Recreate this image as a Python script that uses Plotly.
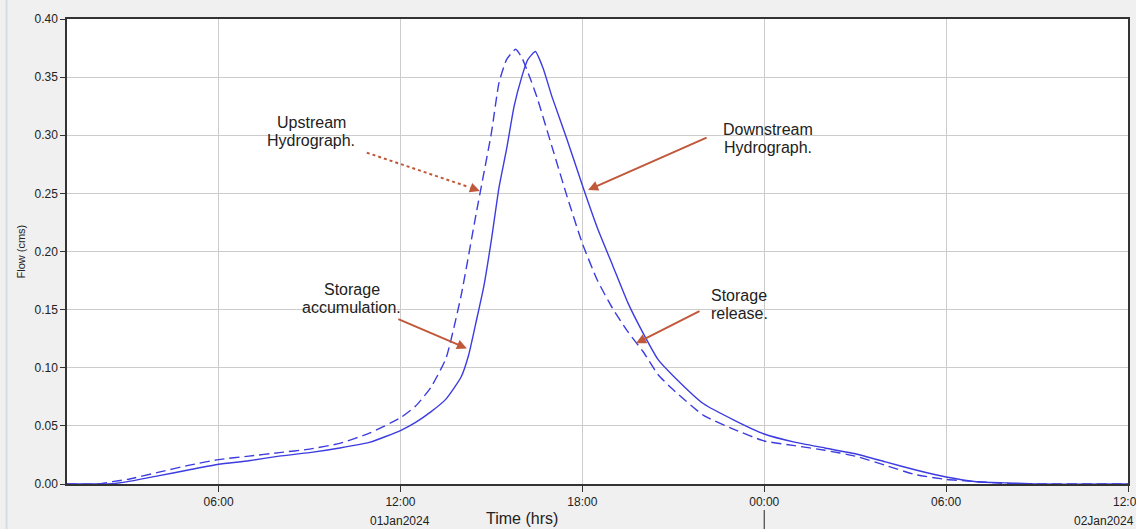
import pandas as pd
import plotly.graph_objects as go

# ---- data (hours after 01Jan2024 00:00, flow in cms) ----
upstream_hours = [1, 2, 2.5, 3, 4, 5, 6, 7, 8, 9, 10, 11, 12, 12.5, 13, 13.5, 14, 14.5, 15,
                  15.25, 15.5, 15.8, 16.0, 16.25, 16.5, 17, 17.5, 18, 18.5, 19, 19.5, 20,
                  20.5, 21, 22, 23, 24, 25, 26, 27, 28, 29, 30, 31, 32, 33, 36]
upstream_flow = [0, 0, 0.002, 0.004, 0.010, 0.016, 0.021, 0.024, 0.027, 0.030, 0.035, 0.044,
                 0.057, 0.067, 0.083, 0.108, 0.162, 0.233, 0.302, 0.345, 0.365, 0.374, 0.367,
                 0.351, 0.333, 0.290, 0.247, 0.207, 0.175, 0.151, 0.131, 0.114, 0.094, 0.081,
                 0.059, 0.047, 0.037, 0.033, 0.029, 0.024, 0.016, 0.008, 0.004, 0.002, 0.0005,
                 0, 0]

downstream_hours = [1, 2, 2.5, 3, 4, 5, 6, 7, 8, 9, 10, 11, 12, 12.5, 13, 13.5, 14, 14.25,
                    14.5, 14.75, 15, 15.25, 15.5, 15.75, 16.0, 16.2, 16.45, 16.7, 17, 17.5, 18,
                    18.5, 19, 19.5, 20, 20.5, 21, 22, 23, 24, 25, 26, 27, 28, 29, 30, 31, 32,
                    33, 36]
downstream_flow = [0, 0, 0.0003, 0.002, 0.007, 0.012, 0.017, 0.020, 0.024, 0.027, 0.031,
                   0.036, 0.046, 0.053, 0.062, 0.073, 0.092, 0.111, 0.140, 0.170, 0.210, 0.255,
                   0.288, 0.325, 0.350, 0.365, 0.372, 0.358, 0.333, 0.296, 0.257, 0.220, 0.188,
                   0.156, 0.130, 0.107, 0.093, 0.069, 0.055, 0.043, 0.036, 0.031, 0.026, 0.019,
                   0.012, 0.006, 0.002, 0.001, 0, 0]

x_tick_hours = [6, 12, 18, 24, 30, 36]
x_tick_labels = ["06:00", "12:00", "18:00", "00:00", "06:00", "12:00"]
y_tick_values = [0.00, 0.05, 0.10, 0.15, 0.20, 0.25, 0.30, 0.35, 0.40]
date_labels = ["01Jan2024", "02Jan2024"]

base = pd.Timestamp("2024-01-01 00:00")


def t(h):
    return base + pd.to_timedelta(h, unit="h")


up_x = [t(h) for h in upstream_hours]
dn_x = [t(h) for h in downstream_hours]

LINE = "#3c3ce0"
ARROW = "#c0583a"
FONT = "Liberation Sans, Arial, sans-serif"

fig = go.Figure()
fig.add_trace(go.Scatter(x=up_x, y=upstream_flow, mode="lines", name="Upstream",
                         line=dict(color=LINE, width=1.4, dash="10px,5px", shape="spline",
                                   smoothing=0.5)))
fig.add_trace(go.Scatter(x=dn_x, y=downstream_flow, mode="lines", name="Downstream",
                         line=dict(color=LINE, width=1.4, shape="spline", smoothing=0.5)))

fig.update_layout(
    width=1136, height=529,
    margin=dict(l=67, r=8, t=19, b=45, autoexpand=False),
    paper_bgcolor="#f0f0f0",
    plot_bgcolor="white",
    showlegend=False,
    font=dict(family=FONT, color="#222222", size=12),
)

fig.update_xaxes(
    range=[t(1), t(36)], automargin=False,
    tickvals=[t(h) for h in x_tick_hours], ticktext=x_tick_labels,
    ticks="outside", ticklen=6, tickcolor="#333333", ticklabeloverflow="allow",
    showgrid=True, gridcolor="#cccccc", gridwidth=1,
    showline=True, linecolor="#333333", linewidth=1.5, mirror=True,
    zeroline=False, tickfont=dict(size=12, color="#222222"),
)
fig.update_yaxes(
    range=[0, 0.4], tickvals=y_tick_values, tickformat=".2f", automargin=False,
    ticks="outside", ticklen=5, tickcolor="#333333",
    showgrid=True, gridcolor="#cccccc", gridwidth=1,
    showline=True, linecolor="#333333", linewidth=1.5, mirror=True,
    zeroline=False, tickfont=dict(size=12, color="#222222"),
)

annotations = []
# axis titles
annotations.append(dict(text="Time (hrs)", x=t(16.0), y=0, xref="x", yref="paper",
                        yanchor="top", yshift=-24, showarrow=False,
                        font=dict(size=16, color="#222222")))
annotations.append(dict(text="Flow (cms)", x=0, y=0.5, xref="paper", yref="paper",
                        xanchor="center", xshift=-47, textangle=-90, showarrow=False,
                        font=dict(size=11, color="#222222")))
# date labels
annotations.append(dict(text=date_labels[0], x=t(12), y=0, xref="x", yref="paper",
                        yanchor="top", yshift=-28, showarrow=False,
                        font=dict(size=12, color="#222222")))
annotations.append(dict(text=date_labels[1], x=1, y=0, xref="paper", yref="paper",
                        xanchor="right", xshift=8, yanchor="top", yshift=-28,
                        showarrow=False, font=dict(size=12, color="#222222")))


def label(lines, hours, flow):
    for i, s in enumerate(lines):
        annotations.append(dict(text=s, x=t(hours), y=flow, xref="x", yref="y",
                                yshift=9 - 18 * i, showarrow=False,
                                font=dict(size=16, color="#222222")))


label(["Upstream", "Hydrograph."], 9.05, 0.303)
label(["Downstream", "Hydrograph."], 24.13, 0.297)
label(["Storage", "accumulation."], 10.39, 0.160)
label(["Storage", "release."], 23.17, 0.154)


def arrow(hours, flow, ax, ay):
    annotations.append(dict(text="", x=t(hours), y=flow, xref="x", yref="y",
                            ax=ax, ay=ay, showarrow=True, arrowhead=2, arrowsize=1,
                            arrowwidth=2, arrowcolor=ARROW, standoff=0))


arrow(18.19, 0.253, 120, -53)
arrow(14.19, 0.1166, -70, -30)
arrow(19.77, 0.121, 65, -33)
arrow(14.62, 0.252, -11, -4)

fig.update_layout(annotations=annotations)

shapes = [
    # dotted upstream arrow shaft
    dict(type="line", xref="x", yref="y", x0=t(10.89), y0=0.285, x1=t(14.25), y1=0.2555,
         line=dict(color=ARROW, width=2, dash="dot")),
    # day separator below axis
    dict(type="line", xref="x", yref="paper", x0=t(24), x1=t(24), y0=-0.056, y1=-0.1,
         line=dict(color="#222222", width=1)),
    # left window strip
    dict(type="line", xref="paper", yref="paper", x0=-0.057, x1=-0.057, y0=-0.1, y1=1.05,
         line=dict(color="#d3dde8", width=2)),
]
fig.update_layout(shapes=shapes)

fig.write_html("out.html", config={"displayModeBar": False},
               post_script="document.body.style.margin='0px';"
                           "document.body.style.overflow='hidden';")
